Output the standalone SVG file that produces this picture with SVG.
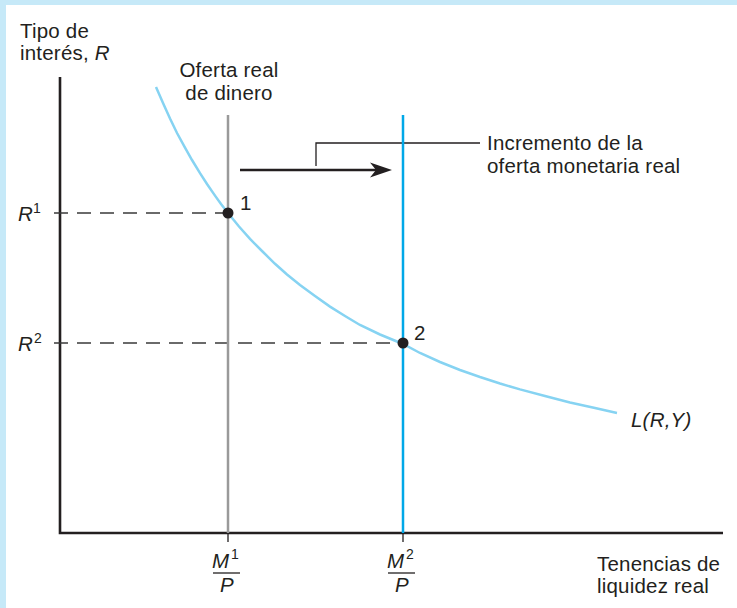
<svg xmlns="http://www.w3.org/2000/svg" width="737" height="608" viewBox="0 0 737 608">
<defs>
<style>
text{font-family:"Liberation Sans",Arial,sans-serif;font-size:20.5px;letter-spacing:0.2px;fill:#231f20}
.it{font-style:italic}
.sup{font-size:14px;letter-spacing:0}
.axis{stroke:#231f20;stroke-width:2.6;fill:none}
.dash{stroke:#3a3a3a;stroke-width:1.5;stroke-dasharray:14 9;fill:none}
.thin{stroke:#231f20;stroke-width:1.3;fill:none}
</style>
</defs>
<rect x="0" y="0" width="737" height="608" fill="#c6e9f8"/>
<rect x="6" y="5" width="731" height="603" fill="#ffffff"/>

<g id="axes">
<path class="axis" d="M60,77 V533 H723"/>
<path class="thin" d="M228,533 V542 M403,533 V542"/>
</g>

<g id="connectors">
<path class="dash" d="M54,213 H228"/>
<path class="dash" d="M54,343 H403"/>
<path class="thin" d="M316,166 V143 H480"/>
<line x1="240" y1="170" x2="378" y2="170" stroke="#231f20" stroke-width="2.6"/>
<polygon points="392,170 370,162.5 376,170 370,177.5" fill="#231f20"/>
</g>

<g id="supply1">
<line x1="228" y1="115" x2="228" y2="533" stroke="#9a9a9a" stroke-width="2.5"/>
</g>
<g id="supply2">
<line x1="403" y1="115" x2="403" y2="533" stroke="#00a8e8" stroke-width="2.5"/>
</g>

<g id="demand">
<polyline fill="none" stroke="#86d3f2" stroke-width="2.5" points="156,87 163,103 170,118.5 177,133 185,147.7 192,160 200,173.2 207,184 215,195.6 221,204 228,213 239,226.5 250,238.9 262,251 275,263.8 287,274.5 300,285 315,296 330,306.6 345,316 360,325 380,334.5 403,344 420,353 440,362 460,370 480,377 500,383.5 520,389.4 545,396 570,402.5 595,408 617,413"/>
<text class="it" x="631" y="427">L(R,Y)</text>
</g>

<g id="point1">
<circle cx="228" cy="213" r="5.5" fill="#231f20"/>
<text x="240" y="210">1</text>
</g>
<g id="point2">
<circle cx="403" cy="343" r="5.5" fill="#231f20"/>
<text x="414" y="340">2</text>
</g>

<g id="labels">
<text x="20" y="38">Tipo de</text>
<text x="20" y="60">interés, <tspan class="it">R</tspan></text>
<text x="229" y="77" text-anchor="middle">Oferta real</text>
<text x="229" y="100" text-anchor="middle">de dinero</text>
<text x="487" y="150">Incremento de la</text>
<text x="487" y="173">oferta monetaria real</text>
<text class="it" x="18" y="221">R</text><text class="sup" x="33" y="213">1</text>
<text class="it" x="18" y="351">R</text><text class="sup" x="34" y="343">2</text>
<text x="597" y="571">Tenencias de</text>
<text x="597" y="593">liquidez real</text>
</g>

<g id="m1p">
<text class="it" x="212" y="568">M</text><text class="sup" x="231" y="559">1</text>
<line x1="213" y1="573" x2="240" y2="573" stroke="#231f20" stroke-width="1.3"/>
<text class="it" x="220" y="592">P</text>
</g>
<g id="m2p">
<text class="it" x="387" y="568">M</text><text class="sup" x="406" y="559">2</text>
<line x1="388" y1="573" x2="415" y2="573" stroke="#231f20" stroke-width="1.3"/>
<text class="it" x="395" y="592">P</text>
</g>
</svg>
